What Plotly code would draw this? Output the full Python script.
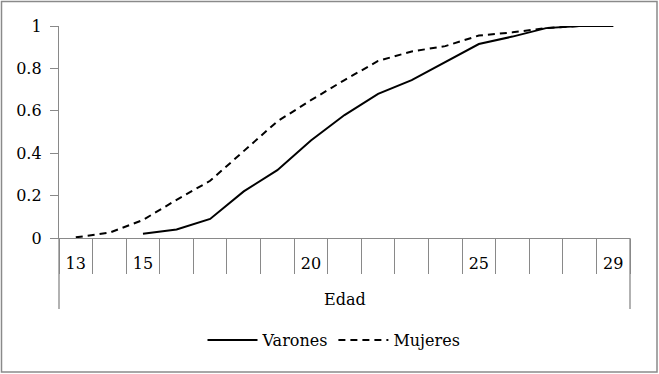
import plotly.graph_objects as go

ages = [str(a) for a in range(13, 30)]
tick_labels = ["13", "", "15", "", "", "", "", "20", "", "", "", "", "25", "", "", "", "29"]
varones = [None, None, 0.02, 0.04, 0.09, 0.22, 0.32, 0.46, 0.58, 0.68, 0.745, 0.83, 0.915, 0.95, 0.99, 1.0, 1.0]
mujeres = [0.003, 0.025, 0.085, 0.18, 0.27, 0.41, 0.55, 0.65, 0.745, 0.835, 0.88, 0.905, 0.955, 0.97, 0.99, 1.0, 1.0]
y_ticks = [0, 0.2, 0.4, 0.6, 0.8, 1]
y_ticktext = ["0", "0.2", "0.4", "0.6", "0.8", "1"]

FONT = "DejaVu Serif"
AXIS = "#898989"

fig = go.Figure()
fig.add_trace(go.Scatter(x=ages, y=varones, mode="lines", name="Varones",
                         line=dict(color="black", width=2), connectgaps=False))
fig.add_trace(go.Scatter(x=ages, y=mujeres, mode="lines", name="Mujeres",
                         line=dict(color="black", width=2, dash="7px,5px")))

W, H = 659, 374
L, R, T, B = 59, 29, 26, 136
ph = H - T - B
pw = W - L - R

def py(px):
    return (H - B - px) / ph

def pxp(px):
    return (px - L) / pw

fig.update_layout(
    width=W, height=H,
    margin=dict(l=L, r=R, t=T, b=B, autoexpand=False),
    paper_bgcolor="white", plot_bgcolor="white",
    font=dict(family=FONT, size=16, color="black"),
    showlegend=True,
    legend=dict(orientation="h", x=pxp(334), xanchor="center", y=py(340), yanchor="middle",
                font=dict(family=FONT, size=16), itemwidth=50, traceorder="normal"),
    xaxis=dict(type="category", categoryorder="array", categoryarray=ages,
               range=[-0.5, 16.5], tickmode="array", tickvals=ages, ticktext=tick_labels,
               tickson="boundaries", ticks="outside", ticklen=35, tickcolor=AXIS, tickwidth=1.3,
               showline=True, linecolor=AXIS, linewidth=1.3, showgrid=False, zeroline=False,
               automargin=False,
               ticklabelstandoff=11, tickfont=dict(family=FONT, size=16)),
    yaxis=dict(range=[0, 1], tickmode="array", tickvals=y_ticks, ticktext=y_ticktext,
               ticks="outside", ticklen=8, tickcolor=AXIS, tickwidth=1.3,
               showline=True, linecolor=AXIS, linewidth=1.3, showgrid=False, zeroline=False,
               automargin=False, ticklabelstandoff=5,
               tickfont=dict(family=FONT, size=16)),
    annotations=[dict(text="Edad", xref="paper", yref="paper", x=0.5, y=py(299),
                      xanchor="center", yanchor="middle", showarrow=False,
                      font=dict(family=FONT, size=16))],
    shapes=[
        dict(type="line", xref="paper", yref="paper", x0=0, x1=0, y0=0, y1=py(309),
             line=dict(color=AXIS, width=1.3)),
        dict(type="line", xref="paper", yref="paper", x0=1, x1=1, y0=0, y1=py(309),
             line=dict(color=AXIS, width=1.3)),
        dict(type="rect", xref="paper", yref="paper", x0=pxp(1.5), x1=pxp(657), y0=py(1.5), y1=py(372),
             line=dict(color="#8a8a8a", width=1.5)),
    ],
)

fig.write_html("out.html", config={"displayModeBar": False},
               post_script="document.body.style.margin='0';document.body.style.padding='0';")
